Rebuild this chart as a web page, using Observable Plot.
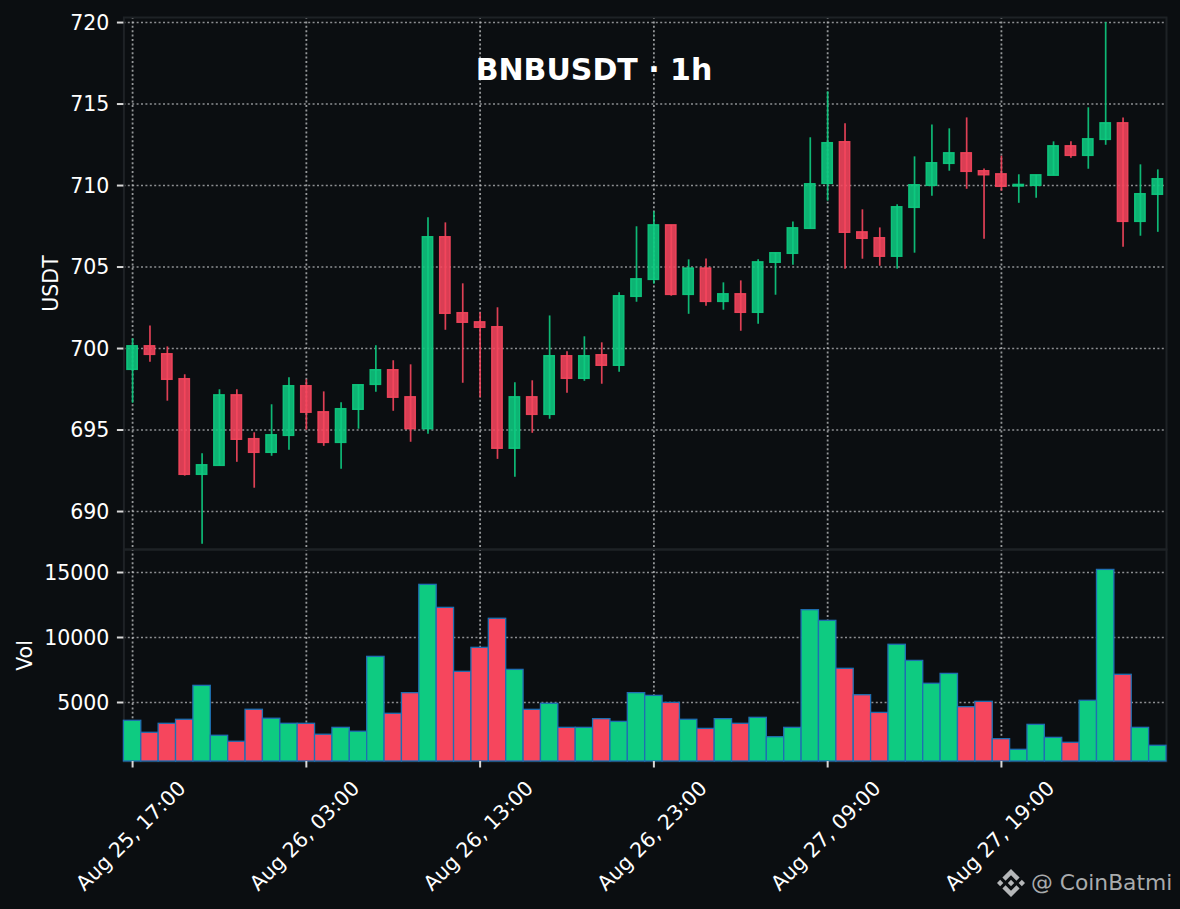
<!DOCTYPE html>
<html>
<head>
<meta charset="utf-8">
<script src="https://cdn.jsdelivr.net/npm/d3@7"></script>
<script src="https://cdn.jsdelivr.net/npm/@observablehq/plot@0.6"></script>
<style>
  html, body { margin: 0; padding: 0; background: #0b0e11; }
  #chart { position: relative; width: 1180px; height: 909px; overflow: hidden; background: #0b0e11; font-family: "DejaVu Sans", sans-serif; }
  #chart svg.panel { position: absolute; left: 0; overflow: visible; background: transparent; }
  #title { position: absolute; left: 394px; width: 400px; top: 51px; margin: 0; text-align: center; color: #fff; font: bold 30px/38px "DejaVu Sans", sans-serif; }
  #mark { position: absolute; left: 997px; top: 869px; display: flex; align-items: center; height: 28px; color: #a9abad; font: 21.8px/28px "DejaVu Sans", sans-serif; white-space: nowrap; }
  #mark svg { width: 28px; height: 28px; margin-right: 6px; }
</style>
</head>
<body>
<div id="chart">
  <h1 id="title">BNBUSDT · 1h</h1>
  <div id="mark"><svg viewBox="0 0 126.61 126.61"><path fill="#b5b7b9" d="M38.73 53.2l24.59-24.58 24.6 24.6 14.3-14.31L63.32 0 24.43 38.9zM0 63.31l14.3-14.31 14.31 14.31-14.31 14.3zM38.73 73.41l24.59 24.59 24.6-24.6 14.31 14.29h-.01L63.32 126.61 24.43 87.73l-.02-.02zM98 63.31l14.3-14.31 14.31 14.31-14.31 14.3zM77.83 63.3L63.32 48.78 52.59 59.51l-1.24 1.23-2.54 2.54 14.51 14.5 14.51-14.47z"/></svg><span>@ CoinBatmi</span></div>
</div>
<script>
const startTime = "2025-08-25T17:00:00Z";
const opens = [698.69,700.14,699.65,698.12,692.25,692.8,697.13,694.44,693.6,694.64,697.69,696.09,694.21,696.24,697.77,698.67,697.01,695.05,706.83,702.17,701.61,701.31,693.85,697.01,695.93,699.53,698.14,699.59,698.94,703.17,704.21,707.56,703.29,704.91,702.86,703.33,702.19,705.26,705.81,707.34,710.1,712.66,707.13,706.77,705.63,708.63,709.98,711.33,711.98,710.88,710.69,709.94,709.98,710.6,712.41,711.82,712.8,713.82,707.77,709.43];
const closes = [700.14,699.61,698.08,692.25,692.84,697.13,694.4,693.6,694.68,697.69,696.06,694.21,696.28,697.75,698.67,696.98,695.05,706.83,702.13,701.58,701.27,693.85,697.01,695.93,699.53,698.14,699.53,698.94,703.21,704.25,707.56,703.29,704.91,702.86,703.33,702.19,705.29,705.85,707.38,710.08,712.6,707.1,706.73,705.63,708.67,710.02,711.37,711.98,710.84,710.63,709.92,710.04,710.63,712.41,711.82,712.84,713.82,707.77,709.47,710.39];
const highs = [700.6,701.39,700.1,698.39,693.54,697.47,697.47,694.83,696.55,698.2,698.08,697.34,696.67,697.75,700.17,699.25,699.0,708.02,707.71,703.97,702.19,702.5,697.9,698.02,702.0,699.8,700.72,700.35,703.42,707.47,708.39,707.56,705.44,705.5,704.03,704.15,705.44,705.85,707.77,712.93,715.75,713.79,708.51,707.4,708.82,711.76,713.72,713.48,714.15,711.02,711.8,710.66,710.63,712.68,712.68,714.77,720.0,714.15,711.27,710.96];
const lows = [696.64,699.16,696.77,692.17,687.99,692.8,693.02,691.43,693.39,693.76,694.99,694.0,692.6,695.05,697.32,696.15,694.25,694.74,701.12,697.87,696.98,693.2,692.1,694.8,695.66,697.26,697.99,697.81,698.55,702.84,703.94,703.21,702.1,702.6,702.35,701.06,701.49,703.27,705.11,707.34,709.04,704.87,705.48,705.05,704.87,705.85,709.34,710.88,709.77,706.7,709.65,708.91,709.22,710.6,711.67,711.0,712.47,706.21,706.89,707.13];
const volumes = [3590,2670,3360,3670,6280,2440,1980,4440,3750,3360,3360,2520,3050,2750,8510,4130,5718,14050,12280,7360,9205,11440,7510,4436,4900,3050,3050,3720,3510,5720,5510,4970,3670,2970,3720,3360,3820,2330,3050,12100,11280,7590,5560,4200,9440,8200,6440,7200,4640,5050,2180,1360,3280,2280,1900,5130,15200,7130,3050,1670];
const priceTicks = [690,695,700,705,710,715,720];
const volumeTicks = [5000,10000,15000];
const timeTicks = ["2025-08-25T17:00:00Z","2025-08-26T03:00:00Z","2025-08-26T13:00:00Z","2025-08-26T23:00:00Z","2025-08-27T09:00:00Z","2025-08-27T19:00:00Z"].map(d => new Date(d));
const priceDomain = [687.67, 720.31];
const volumeDomain = [461, 16769];

const UP = "#0ecb81", DOWN = "#f6465d";
const GRID_H = { stroke: "#b9bbbd", strokeOpacity: 0.75, strokeWidth: 1.4, strokeDasharray: "2 2.4" };
const GRID_V = { stroke: "#b9bbbd", strokeOpacity: 0.8, strokeWidth: 1.8, strokeDasharray: "2 2.4" };
const t0 = new Date(startTime);
const hour = (t, h) => new Date(+t + h * 3600e3);
const candles = opens.map((open, i) => ({
  t: hour(t0, i), open, close: closes[i], high: highs[i], low: lows[i], volume: volumes[i], up: closes[i] >= open
}));
const xDomain = [hour(t0, -0.5), hour(t0, 59.5)];
const xScale = { type: "utc", domain: xDomain };
const M = { marginLeft: 123.4, marginRight: 14 };
const timeFmt = d3.utcFormat("%b %d, %H:%M");
const plainFmt = d3.format("d");
const blank = () => "";
const FS = 20.5;
const TICK = { tickSize: 6.5, stroke: "#d8d8d8", strokeWidth: 2, label: null };
const yAxisMarks = ticks => [
  Plot.axisY(ticks, { anchor: "left", ...TICK, tickFormat: blank }),
  Plot.axisY(ticks, { anchor: "left", tickSize: 0, tickPadding: 14.5, dy: 0.8, tickFormat: plainFmt, fontSize: FS, fill: "#fff", label: null })
];

const top_ = Plot.plot({
  className: "panel",
  width: 1180, height: 549, marginTop: 17, marginBottom: 0, ...M,
  style: { top: "0px", background: "transparent", fontFamily: "DejaVu Sans", fontSize: "20px", color: "#fff", overflow: "visible" },
  x: { ...xScale, axis: null },
  y: { domain: priceDomain, axis: null },
  marks: [
    Plot.gridX(timeTicks, { x: d => d, ...GRID_V }),
    Plot.gridY(priceTicks, { y: d => d, ...GRID_H }),
    Plot.frame({ stroke: "#1e2226", strokeWidth: 2 }),
    Plot.ruleX(candles, { x: "t", y1: "low", y2: "high", stroke: d => d.up ? UP : DOWN, strokeWidth: 1.7, strokeOpacity: 0.9 }),
    Plot.rect(candles, { x1: d => hour(d.t, -0.3), x2: d => hour(d.t, 0.3), y1: "open", y2: "close", fill: d => d.up ? UP : DOWN, stroke: d => d.up ? UP : DOWN, strokeWidth: 1.4, fillOpacity: 0.88, strokeOpacity: 0.9 }),
    ...yAxisMarks(priceTicks),
    Plot.text(["USDT"], { text: d => d, frameAnchor: "left", textAnchor: "middle", dx: -72.5, rotate: -90, fontSize: FS, fill: "#fff" })
  ]
});

const bottom_ = Plot.plot({
  className: "panel",
  width: 1180, height: 360, marginTop: 0, marginBottom: 148, ...M,
  style: { top: "549px", background: "transparent", fontFamily: "DejaVu Sans", fontSize: "20px", color: "#fff", overflow: "visible" },
  x: { ...xScale, axis: null },
  y: { domain: volumeDomain, axis: null },
  marks: [
    Plot.gridX(timeTicks, { x: d => d, ...GRID_V }),
    Plot.gridY(volumeTicks, { y: d => d, ...GRID_H }),
    Plot.frame({ stroke: "#1e2226", strokeWidth: 2 }),
    Plot.rect(candles, { x1: d => hour(d.t, -0.5), x2: d => hour(d.t, 0.5), y1: () => volumeDomain[0], y2: "volume", fill: d => d.up ? UP : DOWN, stroke: "#1f6fb2", strokeWidth: 1.3 }),
    ...yAxisMarks(volumeTicks),
    Plot.text(["Vol"], { text: d => d, frameAnchor: "left", textAnchor: "middle", dx: -98, rotate: -90, fontSize: FS, fill: "#fff" }),
    Plot.axisX(timeTicks, { anchor: "bottom", ...TICK, tickFormat: blank }),
    Plot.axisX(timeTicks, { anchor: "bottom", tickSize: 0, tickPadding: 74.5, tickRotate: -45, tickFormat: timeFmt, textAnchor: "middle", lineAnchor: "middle", fontSize: FS, dx: -1.5, fill: "#fff", label: null })
  ]
});

const host = document.getElementById("chart");
host.prepend(bottom_);
host.prepend(top_);
</script>
</body>
</html>
